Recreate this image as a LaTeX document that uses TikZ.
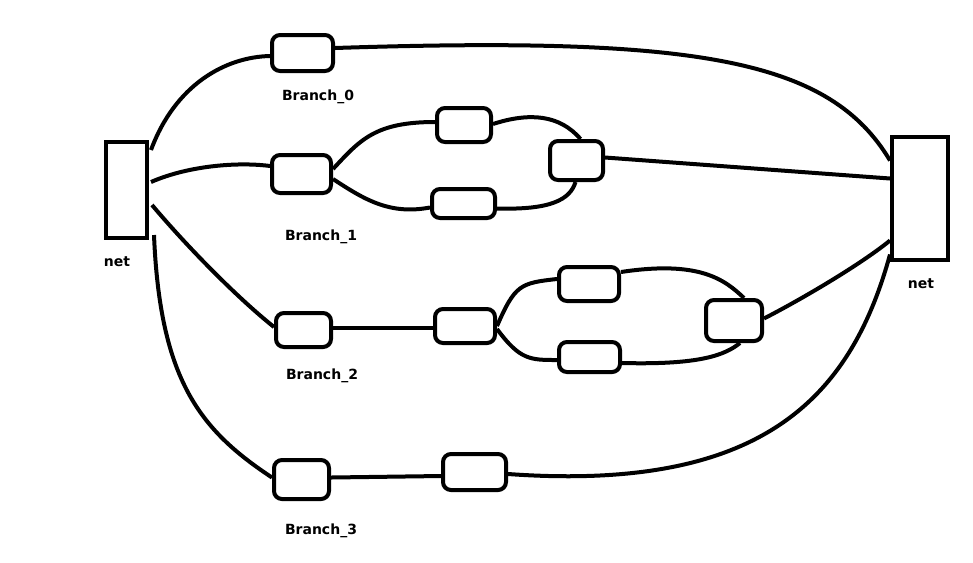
\documentclass[tikz,border=0pt]{standalone}
\usepackage{fontspec}
\setmainfont{DejaVu Sans}
\usetikzlibrary{calc}
\tikzset{
  wire/.style={line width=3pt},
  netbox/.style={draw, line width=3pt, inner sep=0pt},
  blk/.style={draw, line width=3pt, rounded corners=6pt, inner sep=0pt},
  lbl/.style={font=\bfseries\fontsize{10.5}{12}\selectfont, inner sep=0pt}
}
\begin{document}
\begin{tikzpicture}[x=0.75pt,y=-0.75pt]
\useasboundingbox (0,0) rectangle (973,562);
% nets
\node[netbox, minimum width=30.75pt, minimum height=72pt] (L) at (126.5,190) {};
\node[netbox, minimum width=42pt, minimum height=92.25pt] (R) at (920,198.5) {};
\node[lbl] (Lt) at (117,262) {net};
\node[lbl] (Rt) at (921,284) {net};
% branch 0
\node[blk, minimum width=45.75pt, minimum height=27pt] (B0) at (302.5,53) {};
\node[lbl] (B0t) at (318,97) {Branch\_0};
% branch 1
\node[blk, minimum width=44.25pt, minimum height=28.5pt] (B1) at (301.5,174) {};
\node[blk, minimum width=40.5pt, minimum height=25.5pt] (B1u) at (464,125) {};
\node[blk, minimum width=47.25pt, minimum height=21.75pt] (B1l) at (463.5,203.5) {};
\node[blk, minimum width=39.75pt, minimum height=29.25pt] (B1r) at (576.5,160.5) {};
\node[lbl] (B1t) at (321,237) {Branch\_1};
% branch 2
\node[blk, minimum width=41.25pt, minimum height=25.5pt] (B2) at (303.5,330) {};
\node[blk, minimum width=45pt, minimum height=25.5pt] (B2m) at (465,326) {};
\node[blk, minimum width=45pt, minimum height=25.5pt] (B2u) at (589,284) {};
\node[blk, minimum width=45.75pt, minimum height=22.5pt] (B2l) at (589.5,357) {};
\node[blk, minimum width=42pt, minimum height=30.75pt] (B2r) at (734,320.5) {};
\node[lbl] (B2t) at (322,376) {Branch\_2};
% branch 3
\node[blk, minimum width=41.25pt, minimum height=29.25pt] (B3) at (301.5,479.5) {};
\node[blk, minimum width=47.25pt, minimum height=27pt] (B3m) at (474.5,472) {};
\node[lbl] (B3t) at (321,531) {Branch\_3};
% connectors
\draw[wire] ($(L.east)+(2,-40)$) .. controls (175,85) and (225,57) .. ($(B0.west)+(0,3)$);
\draw[wire] ($(B0.east)+(0,-5)$) .. controls (700,36) and (830,60) .. ($(R.west)+(0,-38)$);
\draw[wire] ($(L.east)+(2,-8)$) .. controls (190,165) and (240,162) .. ($(B1.west)+(0,-8)$);
\draw[wire] ($(B1.east)+(0,-5)$) .. controls (360,140) and (375,122) .. ($(B1u.west)+(0,-3)$);
\draw[wire] ($(B1u.east)+(0,-1)$) .. controls (530,112) and (560,115) .. ($(B1r.north)+(4,0)$);
\draw[wire] ($(B1.east)+(0,5)$) .. controls (365,200) and (390,215) .. ($(B1l.west)+(0,4)$);
\draw[wire] ($(B1l.east)+(0,5)$) .. controls (550,210) and (570,200) .. ($(B1r.south)+(-1,0)$);
\draw[wire] ($(B1r.east)+(0,-3)$) -- ($(R.west)+(0,-20)$);
\draw[wire] ($(L.east)+(3,15)$) .. controls (190,250) and (240,300) .. ($(B2.west)+(0,-3)$);
\draw[wire] ($(B2.east)+(0,-2)$) -- ($(B2m.west)+(0,2)$);
\draw[wire] ($(B2m.east)+(0,0)$) .. controls (515,285) and (520,283) .. ($(B2u.west)+(0,-5)$);
\draw[wire] ($(B2u.east)+(0,-12)$) .. controls (700,260) and (725,280) .. ($(B2r.north)+(10,0)$);
\draw[wire] ($(B2m.east)+(0,3)$) .. controls (520,360) and (530,360) .. ($(B2l.west)+(0,3)$);
\draw[wire] ($(B2l.east)+(0,6)$) .. controls (700,365) and (725,355) .. ($(B2r.south)+(6,0)$);
\draw[wire] ($(B2r.east)+(0,-2)$) .. controls (800,300) and (860,265) .. ($(R.west)+(0,42)$);
\draw[wire] ($(L.east)+(5,45)$) .. controls (160,380) and (200,430) .. ($(B3.west)+(0,-2)$);
\draw[wire] ($(B3.east)+(0,-2)$) -- ($(B3m.west)+(0,4)$);
\draw[wire] ($(B3m.east)+(0,2)$) .. controls (760,492) and (850,400) .. ($(R.west)+(0,56)$);
\end{tikzpicture}
\end{document}
